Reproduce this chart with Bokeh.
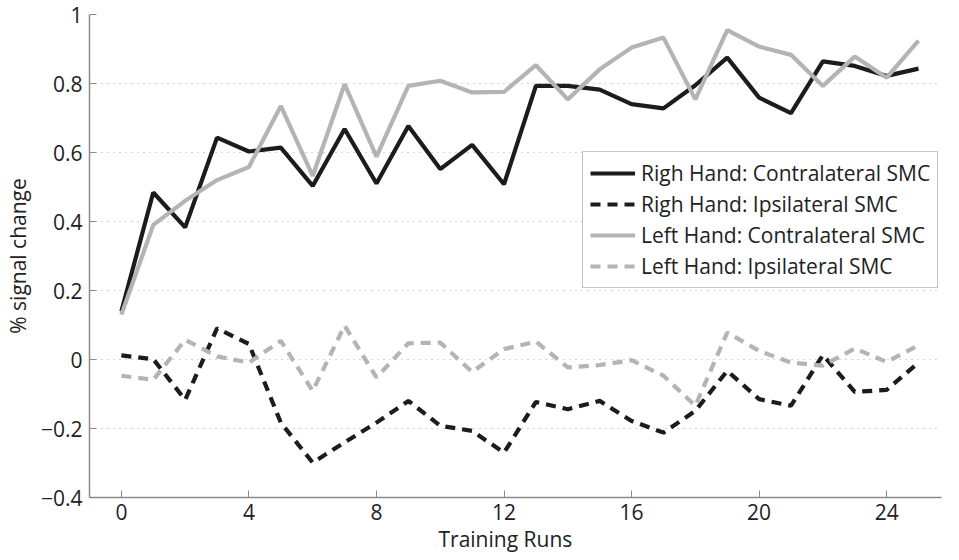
from bokeh.plotting import figure
from bokeh.models import Range1d, FixedTicker, Legend, LegendItem, Title
from bokeh.embed import file_html
from bokeh.resources import INLINE

runs = list(range(26))
right_contra = [0.14, 0.484, 0.383, 0.643, 0.603, 0.614, 0.503, 0.668, 0.51, 0.677,
                0.552, 0.622, 0.508, 0.793, 0.793, 0.782, 0.74, 0.728, 0.795, 0.875,
                0.759, 0.714, 0.864, 0.851, 0.822, 0.843]
right_ipsi = [0.012, 0.001, -0.117, 0.09, 0.045, -0.183, -0.299, -0.24, -0.183, -0.12,
              -0.192, -0.207, -0.27, -0.123, -0.144, -0.12, -0.178, -0.212, -0.149, -0.033,
              -0.115, -0.134, 0.013, -0.094, -0.088, -0.009]
left_contra = [0.13, 0.39, 0.46, 0.52, 0.558, 0.735, 0.532, 0.798, 0.588, 0.793,
               0.808, 0.774, 0.776, 0.853, 0.754, 0.841, 0.904, 0.933, 0.754, 0.955,
               0.907, 0.883, 0.793, 0.878, 0.817, 0.924]
left_ipsi = [-0.047, -0.059, 0.057, 0.009, -0.009, 0.054, -0.091, 0.098, -0.052, 0.047,
             0.049, -0.036, 0.03, 0.052, -0.023, -0.016, -0.002, -0.047, -0.134, 0.078,
             0.025, -0.009, -0.018, 0.032, -0.007, 0.041]

x_ticks = [0, 4, 8, 12, 16, 20, 24]
y_ticks = [-0.4, -0.2, 0, 0.2, 0.4, 0.6, 0.8, 1]
y_tick_labels = ["\u22120.4", "\u22120.2", "0", "0.2", "0.4", "0.6", "0.8", "1"]

series_names = ["Righ Hand: Contralateral SMC", "Righ Hand: Ipsilateral SMC",
                "Left Hand: Contralateral SMC", "Left Hand: Ipsilateral SMC"]

FONT = "Open Sans"
BLACK = "#1c1c1c"
GRAY = "#b4b4b4"
AXIS = "#8a8a8a"
TXT = "#222222"

p = figure(width=943, height=552, output_backend="svg", toolbar_location=None,
           x_range=Range1d(-1, 25.72), y_range=Range1d(-0.4, 1),
           min_border_left=89, min_border_right=2, min_border_top=14, min_border_bottom=50)
p.outline_line_color = None
p.background_fill_color = "white"
p.border_fill_color = "white"

r1 = p.line(runs, right_contra, line_color=BLACK, line_width=4.2)
r2 = p.line(runs, right_ipsi, line_color=BLACK, line_width=4.2, line_dash="10 7")
r3 = p.line(runs, left_contra, line_color=GRAY, line_width=4.2)
r4 = p.line(runs, left_ipsi, line_color=GRAY, line_width=4.2, line_dash="10 7")

for ax in (p.xaxis[0], p.yaxis[0]):
    ax.axis_line_color = AXIS
    ax.axis_line_width = 1.5
    ax.major_tick_line_color = AXIS
    ax.major_tick_in = 7
    ax.major_tick_out = 0
    ax.minor_tick_line_color = None
    ax.major_label_text_font = FONT
    ax.major_label_text_font_size = "21px"
    ax.major_label_text_color = TXT
    ax.axis_label_text_font = FONT
    ax.axis_label_text_font_size = "21px"
    ax.axis_label_text_font_style = "normal"
    ax.axis_label_text_color = TXT

p.xaxis.ticker = FixedTicker(ticks=x_ticks)
p.yaxis.ticker = FixedTicker(ticks=y_ticks)
p.yaxis.major_label_overrides = {float(t): l for t, l in zip(y_ticks, y_tick_labels)}
p.yaxis.axis_label = "% signal change"
p.xaxis.major_label_standoff = 6
p.yaxis.major_label_standoff = 7
p.yaxis.axis_label_standoff = 6

xlabel = Title(text="Training Runs", align="left", offset=349,
               text_font=FONT, text_font_size="21px", text_font_style="normal",
               text_color=TXT, standoff=0)
p.add_layout(xlabel, "below")

p.xgrid.grid_line_color = None
p.ygrid.grid_line_color = "#aaaaaa"
p.ygrid.grid_line_dash = "1 5"
p.ygrid.grid_line_width = 1.2

legend = Legend(items=[LegendItem(label=n, renderers=[r]) for n, r in
                       zip(series_names, [r1, r2, r3, r4])],
                location=(493, 209))
legend.label_text_font = FONT
legend.label_text_font_size = "21px"
legend.label_text_color = TXT
legend.border_line_color = AXIS
legend.border_line_width = 1.2
legend.glyph_width = 45
legend.glyph_height = 24
legend.label_height = 24
legend.label_standoff = 6
legend.spacing = 3
legend.padding = 7
legend.margin = 0
legend.background_fill_alpha = 1
p.add_layout(legend, "center")

open("out.html", "w").write(file_html(p, INLINE))
